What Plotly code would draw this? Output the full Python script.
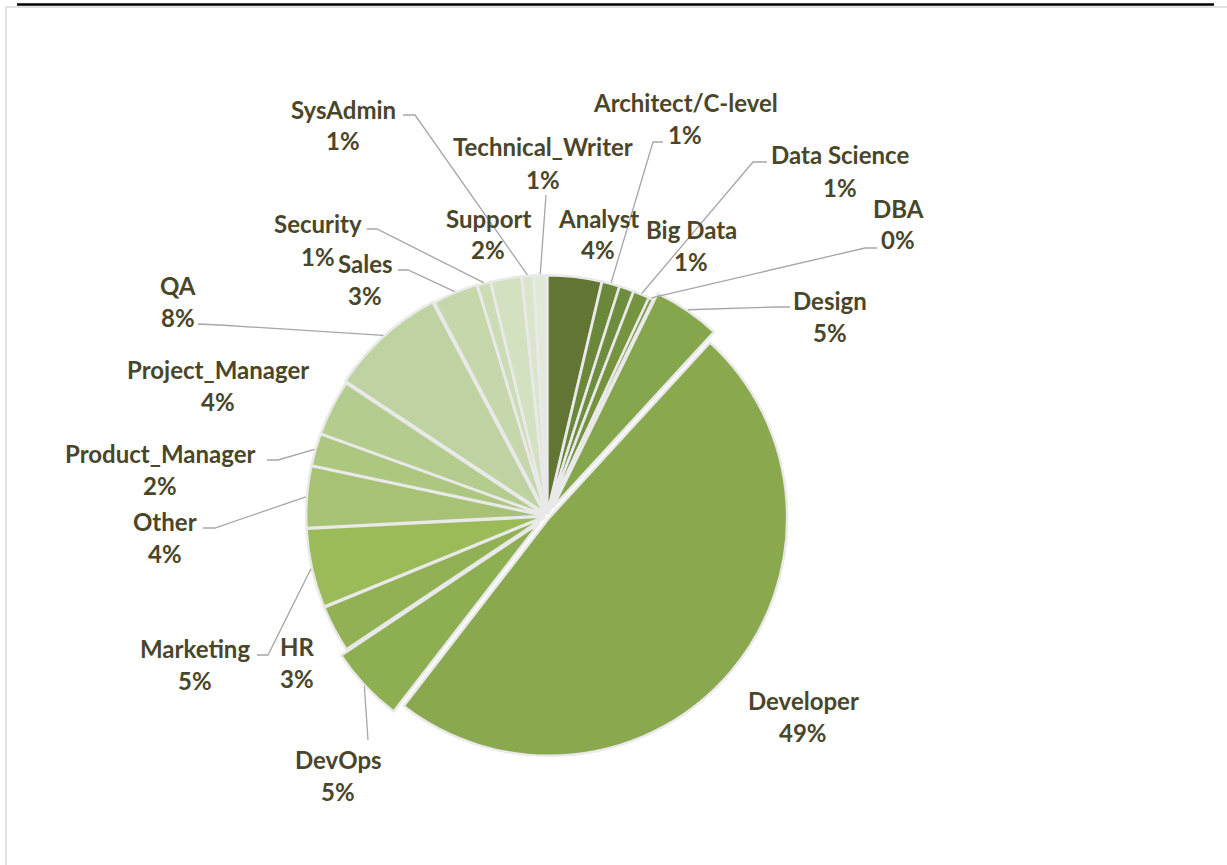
import math
import plotly.graph_objects as go

# ---------------- data ----------------
roles = ["Analyst", "Architect/C-level", "Big Data", "Data Science", "DBA", "Design",
         "Developer", "DevOps", "HR", "Marketing", "Other", "Product_Manager",
         "Project_Manager", "QA", "Sales", "Security", "Support", "SysAdmin",
         "Technical_Writer"]
shares = [3.7, 1.2, 1.0, 1.1, 0.3, 4.6, 49.0, 5.2, 3.2, 5.4, 4.2, 2.2, 3.8, 8.0,
          3.1, 0.9, 2.1, 0.8, 0.9]

# ---------------- style ----------------
colors = ["#627535", "#6a873a", "#6f8d3e", "#76943f", "#7d9b45", "#86a64d",
          "#8aa84e", "#8eae52", "#92b155", "#9bbb59", "#a7c275", "#adc780",
          "#b5cc8f", "#bfd3a2", "#c6d7ab", "#ccdcb5", "#d4e1c0", "#dbe5cc",
          "#e1ead6"]
pulls = [0.012, 0.012, 0.012, 0.012, 0.012, 0.045, 0.012, 0.045, 0.012, 0.012,
         0.012, 0.012, 0.012, 0.02, 0.015, 0.012, 0.012, 0.012, 0.012]

W, H = 1227, 865
CX, CY, R = 547, 516, 238          # pie centre / radius in pixels
TEXT_COLOR = "#4a4629"
LINE_COLOR = "#a6a6a6"
FONT = "Lato"
FS = 24

# label block centres (pixels)
label_pos = {
    "SysAdmin": (343, 125), "Technical_Writer": (543, 163),
    "Architect/C-level": (685, 118), "Data Science": (840, 171),
    "DBA": (898, 224), "Big Data": (691, 246), "Analyst": (598, 234),
    "Support": (488, 234), "Security": (318, 240), "Sales": (365, 279),
    "QA": (178, 301), "Project_Manager": (218, 385),
    "Product_Manager": (160, 469), "Other": (165, 537),
    "Marketing": (195, 664), "HR": (297, 662), "DevOps": (338, 775),
    "Developer": (803, 716), "Design": (830, 316),
}
# label-side leader points (pixels); last point computed from pie geometry
leaders = {
    "SysAdmin": [(403, 115), (415, 115)],
    "Technical_Writer": [(546, 195)],
    "Security": [(367, 229), (377, 229)],
    "Sales": [(398, 270), (408, 270)],
    "Architect/C-level": [(663, 142), (653, 142)],
    "Data Science": [(767, 162), (753, 162)],
    "DBA": [(877, 248), (865, 248)],
    "Design": [(790, 307), (777, 307)],
    "QA": [(198, 324), (220, 325)],
    "Product_Manager": [(267, 460), (278, 460)],
    "Other": [(203, 528), (215, 528)],
    "Marketing": [(257, 655), (268, 655)],
    "DevOps": [(368, 740)],
}

total = sum(shares)
maxpull = max(pulls)
box = 2 * R * (1 + maxpull)
dom_x = [(CX - box / 2) / W, (CX + box / 2) / W]
dom_y = [(H - CY - box / 2) / H, (H - CY + box / 2) / H]

fig = go.Figure(go.Pie(
    labels=roles, values=shares, sort=False, direction="clockwise", rotation=0,
    pull=pulls, textinfo="none", hoverinfo="label+percent",
    marker=dict(colors=colors, line=dict(color="#e9e9e9", width=2.5)),
    domain=dict(x=dom_x, y=dom_y), showlegend=False,
))


def px(x, y):
    return x / W, 1 - y / H


annotations = []
shapes = []
cum = 0.0
for name, v, p in zip(roles, shares, pulls):
    mid = 2 * math.pi * (cum + v / 2) / total
    cum += v
    lx, ly = label_pos[name]
    pct = f"{round(100 * v / total)}%"
    for txt, dy in ((name, -16), (pct, 16)):
        ax_, ay_ = px(lx, ly + dy)
        annotations.append(dict(
            x=ax_, y=ay_, xref="paper", yref="paper", text=txt, showarrow=False,
            xanchor="center", yanchor="middle",
            font=dict(family=FONT, size=FS, color=TEXT_COLOR, weight="bold")))
    if name in leaders:
        rr = R * (1 + p) + 1
        ex = CX + rr * math.sin(mid)
        ey = CY - rr * math.cos(mid)
        pts = leaders[name] + [(ex, ey)]
        path = ""
        for i, (x, y) in enumerate(pts):
            X, Y = px(x, y)
            path += ("M" if i == 0 else " L") + f"{X:.5f},{Y:.5f}"
        shapes.append(dict(type="path", path=path, xref="paper", yref="paper",
                           line=dict(color=LINE_COLOR, width=1.3)))

# frame lines
x0, y0 = px(6, 7)
x1, y1 = px(1240, 880)
shapes.append(dict(type="rect", xref="paper", yref="paper", x0=x0, y0=y1, x1=x1, y1=y0,
                   line=dict(color="#d9d9d9", width=1.5), layer="below"))
bx0, by = px(17, 4.5)
bx1, _ = px(1214, 4.5)
shapes.append(dict(type="line", xref="paper", yref="paper", x0=bx0, x1=bx1, y0=by, y1=by,
                   line=dict(color="black", width=2.5)))

fig.update_layout(
    width=W, height=H, margin=dict(l=0, r=0, t=0, b=0),
    paper_bgcolor="white", plot_bgcolor="white",
    annotations=annotations, shapes=shapes,
)
fig.write_html("out.html", config={"displayModeBar": False},
               post_script="document.body.style.margin='0';document.body.style.overflow='hidden';")
